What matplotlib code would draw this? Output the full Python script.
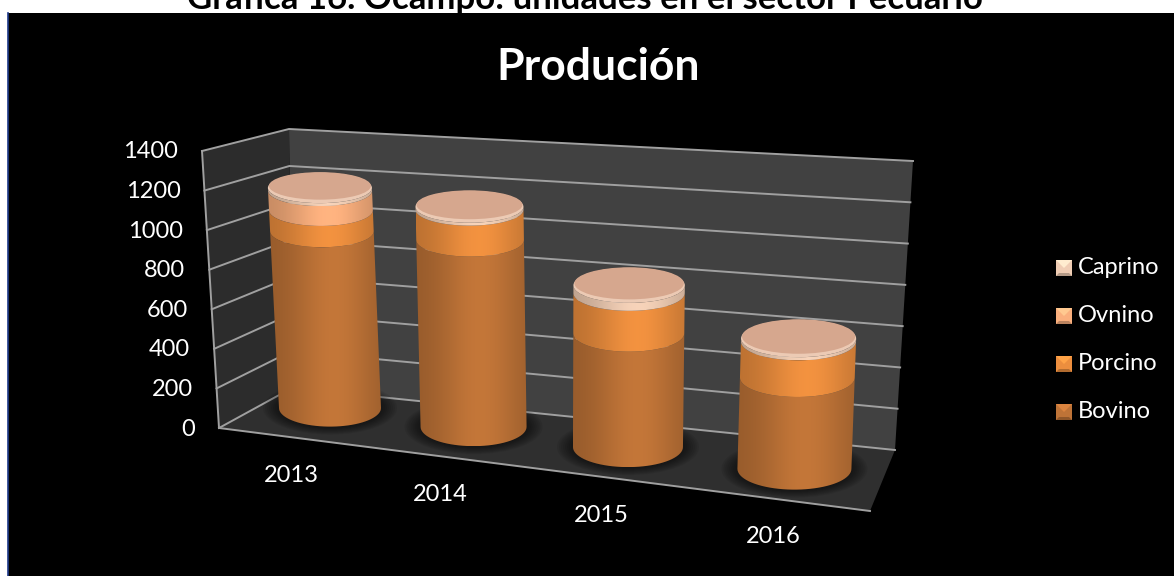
import numpy as np
import matplotlib
matplotlib.use("Agg")
import matplotlib.pyplot as plt
from matplotlib.patches import Ellipse, PathPatch, Polygon, Rectangle
from matplotlib.path import Path

plt.rcParams['font.family'] = ['Lato', 'DejaVu Sans']

# data
years = ['2013', '2014', '2015', '2016']
series_names = ['Bovino', 'Porcino', 'Ovnino', 'Caprino']
bovino = [945, 975, 580, 455]
porcino = [112, 159, 205, 180]
ovnino = [105, 0, 0, 0]
caprino = [15, 15, 40, 15]
y_ticks = [0, 200, 400, 600, 800, 1000, 1200, 1400]
y_max = 1400

# the chart's 3D box on screen, in pixels
floor_quad = [(219, 428), (870, 511), (895, 450), (292, 388)]
top_quad = [(202, 151), (892, 190), (913, 161), (289, 129)]
series_colors = [(190, 115, 55), (236, 142, 62), (250, 175, 125), (240, 205, 180)]


def homography(quad):
    src = [(0, 0), (1, 0), (1, 1), (0, 1)]
    A, b = [], []
    for (u, v), (x, y) in zip(src, quad):
        A.append([u, v, 1, 0, 0, 0, -u * x, -v * x])
        A.append([0, 0, 0, u, v, 1, -u * y, -v * y])
        b += [x, y]
    h = np.linalg.solve(np.array(A, float), np.array(b, float))
    return np.append(h, 1).reshape(3, 3)


H_floor = homography(floor_quad)
H_top = homography(top_quad)


def project(u, v, value=0):
    f = H_floor @ [u, v, 1]
    t = H_top @ [u, v, 1]
    f = f[:2] / f[2]
    t = t[:2] / t[2]
    return f + (t - f) * value / y_max


# the cylinders do not follow the box exactly, they have their own scale
def bar_point(i, value=0):
    x = (127 * i + 330) / (1 - 0.035 * i)
    y = 408 + 0.131 * (x - 330)
    lean = (-12 + 7 * i) * value / y_max
    return np.array([x + lean, y - value * (0.187 + 0.0045 * i)])


def bar_ellipse(i, value):
    rx = 51 + 2 * i + 1.2 * value / y_max
    frac = value / y_max
    return bar_point(i, value), rx, rx * (0.365 * (1 - frac) + 0.28 * frac)


def shade(base, n=200):
    s = np.linspace(0, 1, n)
    profile = 0.78 + 0.25 * np.exp(-((s - 0.58) / 0.38) ** 2)
    return np.clip(np.outer(profile, base) / 255, 0, 1)[None, :, :]


fig = plt.figure(figsize=(11.74, 5.76), dpi=100, facecolor='white')
ax = fig.add_axes([0, 0, 1, 1])
ax.axis('off')

ax.text(585, 9, 'Gráfica 16. Ocampo: unidades en el sector Pecuario', ha='center',
        va='baseline', fontsize=25, fontweight='bold', color='black', zorder=0)
ax.add_patch(Rectangle((8, 13), 1166, 563, fc='black', ec='none', zorder=1))
ax.plot([7.5, 7.5], [13, 576], color='#1f3a8a', lw=1.2, zorder=1)
ax.text(598, 67, 'Produción', ha='center', va='center', fontsize=32,
        fontweight='bold', color='white', zorder=2)

# walls and floor
wall = [project(0, 1, 0), project(1, 1, 0), project(1, 1, y_max), project(0, 1, y_max)]
side = [project(0, 0, 0), project(0, 1, 0), project(0, 1, y_max), project(0, 0, y_max)]
floor = [project(0, 0), project(1, 0), project(1, 1), project(0, 1)]
ax.add_patch(Polygon(wall, fc='#414141', ec='none', zorder=2))
ax.add_patch(Polygon(side, fc='#2c2c2c', ec='none', zorder=2))
ax.add_patch(Polygon(floor, fc='#2f2f2f', ec='none', zorder=2))

grid_color = '#a0a0a0'
for tick in y_ticks:
    a, b, c = project(0, 0, tick), project(0, 1, tick), project(1, 1, tick)
    ax.plot([a[0], b[0], c[0]], [a[1], b[1], c[1]], color=grid_color, lw=1.4, zorder=3)
    ax.text(a[0] - 24, a[1] + 1, str(tick), ha='right', va='center', fontsize=17,
            color='white', zorder=3)
for p, q in [((0, 0, 0), (0, 0, y_max)), ((0, 0, 0), (1, 0, 0))]:
    a, b = project(*p), project(*q)
    ax.plot([a[0], b[0]], [a[1], b[1]], color=grid_color, lw=1.4, zorder=3)

zo = 5
for i, year in enumerate(years):
    c0, rx0, ry0 = bar_ellipse(i, 0)
    # soft shadow on the floor
    for grow in np.linspace(16, 2, 8):
        ax.add_patch(Ellipse(c0, 2 * (rx0 + grow), 2 * (ry0 + grow * 0.5), fc='black',
                             ec='none', alpha=0.07, zorder=zo))
    zo += 1
    stack = 0
    values = [bovino[i], porcino[i], ovnino[i], caprino[i]]
    for val, col in zip(values, series_colors):
        if val == 0:
            continue
        low = bar_ellipse(i, stack)
        high = bar_ellipse(i, stack + val)
        t = np.linspace(np.pi, 0, 40)
        lower = np.c_[low[0][0] + low[1] * np.cos(t), low[0][1] + low[2] * np.sin(t)]
        upper = np.c_[high[0][0] + high[1] * np.cos(t), high[0][1] + high[2] * np.sin(t)][::-1]
        pts = np.vstack([lower, upper, lower[:1]])
        patch = PathPatch(Path(pts), fc='none', ec='none', zorder=zo, transform=ax.transData)
        ax.add_patch(patch)
        x0, x1 = pts[:, 0].min(), pts[:, 0].max()
        y0, y1 = pts[:, 1].min(), pts[:, 1].max()
        im = ax.imshow(shade(col), extent=(x0, x1, y1, y0), aspect='auto', zorder=zo,
                       interpolation='bilinear')
        im.set_clip_path(patch)
        zo += 1
        stack += val
    # top cap with the pale bevel
    c, rx, ry = bar_ellipse(i, stack)
    ax.add_patch(Ellipse(c, 2 * rx, 2 * ry, fc='#eccab4', ec='none', zorder=zo))
    ax.add_patch(Ellipse((c[0], c[1] - 2), 2 * rx - 2, 2 * ry - 3, fc='#d6a78e', ec='none', zorder=zo))
    zo += 1
    ax.text(c0[0] - 39 + 6 * i, c0[1] + 68, year, ha='center', va='center', fontsize=17,
            color='white', zorder=zo)

# legend, top entry is the last series
legend_y = [268, 316, 364, 412]
for name, col, ly in zip(series_names[::-1], series_colors[::-1], legend_y):
    c = np.array(col) / 255
    ax.add_patch(Rectangle((1056, ly - 8), 16, 16, fc=c, ec='none', zorder=5))
    ax.add_patch(Polygon([(1056, ly - 8), (1072, ly - 8), (1064, ly)], fc=np.clip(c * 1.15, 0, 1), ec='none', zorder=6))
    ax.add_patch(Polygon([(1056, ly + 8), (1072, ly + 8), (1069, ly + 5), (1059, ly + 5)], fc=c * 0.75, ec='none', zorder=6))
    ax.text(1078, ly, name, ha='left', va='center', fontsize=17, color='white', zorder=6)

ax.set_xlim(0, 1174)
ax.set_ylim(576, 0)
fig.savefig('out.png', dpi=100)
